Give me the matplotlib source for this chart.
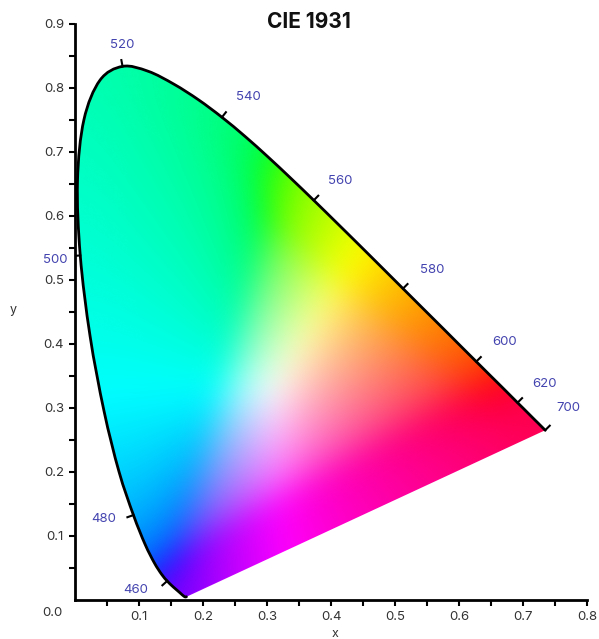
import numpy as np
import matplotlib
matplotlib.use("Agg")
import matplotlib.pyplot as plt
from matplotlib.path import Path
from matplotlib.patches import PathPatch

plt.rcParams['font.family'] = ['Inter', 'DejaVu Sans']

# CIE 1931 2 degree spectral locus, 5 nm steps
wavelengths = list(range(380, 705, 5))
locus_x = [0.1741, 0.1740, 0.1738, 0.1736, 0.1733, 0.1730, 0.1726, 0.1721, 0.1714, 0.1703,
           0.1689, 0.1669, 0.1644, 0.1611, 0.1566, 0.1510, 0.1440, 0.1355, 0.1241, 0.1096,
           0.0913, 0.0687, 0.0454, 0.0235, 0.0082, 0.0039, 0.0139, 0.0389, 0.0743, 0.1142,
           0.1547, 0.1929, 0.2296, 0.2658, 0.3016, 0.3373, 0.3731, 0.4087, 0.4441, 0.4788,
           0.5125, 0.5448, 0.5752, 0.6029, 0.6270, 0.6482, 0.6658, 0.6801, 0.6915, 0.7006,
           0.7079, 0.7140, 0.7190, 0.7230, 0.7260, 0.7283, 0.7300, 0.7311, 0.7320, 0.7327,
           0.7334, 0.7340, 0.7344, 0.7346, 0.7347]
locus_y = [0.0050, 0.0050, 0.0049, 0.0049, 0.0048, 0.0048, 0.0048, 0.0048, 0.0051, 0.0058,
           0.0069, 0.0086, 0.0109, 0.0138, 0.0177, 0.0227, 0.0297, 0.0399, 0.0578, 0.0868,
           0.1327, 0.2007, 0.2950, 0.4127, 0.5384, 0.6548, 0.7502, 0.8120, 0.8338, 0.8262,
           0.8059, 0.7816, 0.7543, 0.7243, 0.6923, 0.6589, 0.6245, 0.5896, 0.5547, 0.5202,
           0.4866, 0.4544, 0.4242, 0.3965, 0.3725, 0.3514, 0.3340, 0.3197, 0.3083, 0.2993,
           0.2920, 0.2859, 0.2809, 0.2770, 0.2740, 0.2717, 0.2700, 0.2689, 0.2680, 0.2673,
           0.2666, 0.2660, 0.2656, 0.2654, 0.2653]

label_wl = [460, 480, 500, 520, 540, 560, 580, 600, 620, 700]
# label offsets in pixels
label_off = {460: (-31, -9), 480: (-30, -4), 500: (-25, -5), 520: (0, 21),
             540: (26, 20), 560: (26, 19), 580: (29, 19), 600: (28, 20),
             620: (27, 19), 700: (23, 22)}

x_ticks = [0.1, 0.2, 0.3, 0.4, 0.5, 0.6, 0.7, 0.8]
y_ticks = [0.1, 0.2, 0.3, 0.4, 0.5, 0.6, 0.7, 0.8, 0.9]

lx = np.array(locus_x)
ly = np.array(locus_y)
pts = np.column_stack([lx, ly])


def smooth_path(p, close=False):
    # catmull-rom drawn as cubic beziers
    verts = [p[0]]
    codes = [Path.MOVETO]
    n = len(p)
    for i in range(n - 1):
        p0 = p[max(i - 1, 0)]
        p1 = p[i]
        p2 = p[i + 1]
        p3 = p[min(i + 2, n - 1)]
        verts += [p1 + (p2 - p0) / 6, p2 - (p3 - p1) / 6, p2]
        codes += [Path.CURVE4] * 3
    if close:
        verts += [p[0], p[0]]
        codes += [Path.LINETO, Path.CLOSEPOLY]
    return Path(np.array(verts), codes)


fig = plt.figure(figsize=(5.99, 6.39), dpi=100)
ax = fig.add_axes([75 / 599, 39 / 639, 512 / 599, 576 / 639])

# chromaticity colours
gx, gy = np.meshgrid(np.linspace(0, 0.75, 450), np.linspace(0.001, 0.85, 510))
X = gx / gy
Y = np.ones_like(gx)
Z = (1 - gx - gy) / gy
M = np.array([[3.2406, -1.5372, -0.4986],
              [-0.9689, 1.8758, 0.0415],
              [0.0557, -0.2040, 1.0570]])
rgb = np.einsum('ij,jhw->hwi', M, np.stack([X, Y, Z]))
mn = np.minimum(rgb.min(axis=2, keepdims=True), 0)
rgb = rgb - mn
rgb = rgb / np.maximum(rgb.max(axis=2, keepdims=True), 1e-9)
rgb = np.clip(rgb, 0, 1)
rgb = np.where(rgb <= 0.0031308, 12.92 * rgb, 1.055 * rgb ** (1 / 2.4) - 0.055)

# soften the colour field inside the locus
inside = smooth_path(pts, close=True).contains_points(
    np.column_stack([gx.ravel(), gy.ravel()])).reshape(gx.shape).astype(float)
s = 14
k = np.exp(-0.5 * (np.arange(-3 * s, 3 * s + 1) / s) ** 2)
k /= k.sum()


def blur(a):
    a = np.apply_along_axis(lambda v: np.convolve(v, k, mode='same'), 0, a)
    return np.apply_along_axis(lambda v: np.convolve(v, k, mode='same'), 1, a)


wsum = blur(inside)
soft = np.stack([blur(rgb[..., c] * inside) for c in range(3)], axis=2)
soft = soft / np.maximum(wsum, 1e-6)[..., None]
soft = np.where(inside[..., None] > 0, soft, rgb)
soft = np.clip(soft, 0, 1)

im = ax.imshow(soft, origin='lower', extent=(0, 0.75, 0.001, 0.85),
               interpolation='bilinear', zorder=1)
patch = PathPatch(smooth_path(pts, close=True), facecolor='none', edgecolor='none')
ax.add_patch(patch)
im.set_clip_path(patch)

ax.add_patch(PathPatch(smooth_path(pts), facecolor='none', edgecolor='black', lw=2,
                       zorder=3, capstyle='round', joinstyle='round'))

# wavelength ticks and labels
for wl in label_wl:
    i = wavelengths.index(wl)
    j0 = max(i - 1, 0)
    j1 = min(i + 1, len(wavelengths) - 1)
    tx = lx[j1] - lx[j0]
    ty = ly[j1] - ly[j0]
    n = np.array([-ty, tx]) / np.hypot(tx, ty)
    ax.plot([lx[i], lx[i] + 0.01 * n[0]], [ly[i], ly[i] + 0.01 * n[1]],
            color='black', lw=1.5, zorder=3)
    ax.annotate(str(wl), (lx[i], ly[i]), xytext=label_off[wl], textcoords='offset pixels',
                ha='center', va='center', fontsize=9.5, color='#4444b0')

ax.set_xlim(0, 0.8)
ax.set_ylim(0, 0.9)
ax.spines['top'].set_visible(False)
ax.spines['right'].set_visible(False)
for sp in ['left', 'bottom']:
    ax.spines[sp].set_linewidth(2)
ax.set_xticks(x_ticks)
ax.set_yticks(y_ticks)
ax.set_xticks(np.arange(0.05, 0.8, 0.1), minor=True)
ax.set_yticks(np.arange(0.05, 0.9, 0.1), minor=True)
ax.set_xticklabels([f'{v:.1f}' for v in x_ticks])
ax.set_yticklabels([f'{v:.1f}' for v in y_ticks])
ax.tick_params(which='both', direction='out', length=4, width=1.5, color='black',
               labelsize=9.5, labelcolor='#333333', pad=4)

fig.text(52 / 599, 1 - 613 / 639, '0.0', ha='center', va='center', fontsize=9.5, color='#333333')
fig.text(335 / 599, 1 - 634 / 639, 'x', ha='center', va='center', fontsize=9, color='#333333')
fig.text(13 / 599, 1 - 310 / 639, 'y', ha='center', va='center', fontsize=9, color='#333333')
fig.text(309 / 599, 1 - 22 / 639, 'CIE 1931', ha='center', va='center', fontsize=15,
         fontweight='bold', color='#111111')

fig.savefig('out.png', dpi=100)
